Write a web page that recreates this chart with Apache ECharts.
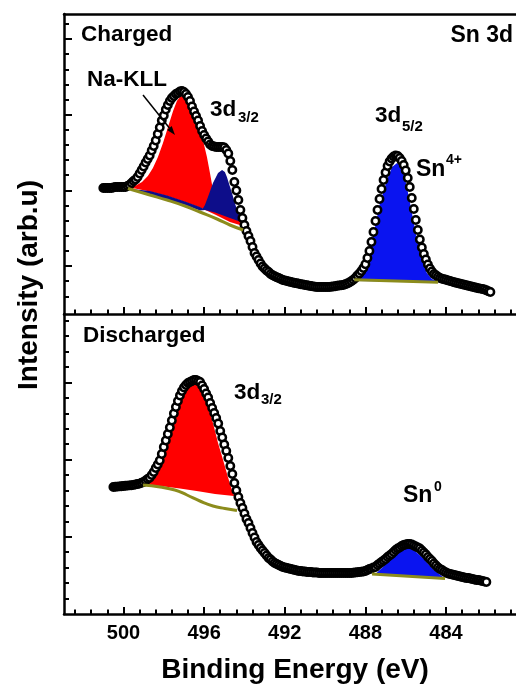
<!DOCTYPE html>
<html><head><meta charset="utf-8">
<script src="https://cdn.jsdelivr.net/npm/echarts@6/dist/echarts.min.js"></script>
<style>html,body{margin:0;padding:0;background:#fff}#chart{width:516px;height:685px}</style>
</head><body><div id="chart"></div>
<script>
// ---------------- DATA ----------------
const energyGrid = [
501.0,500.9,500.8,500.7,500.6,500.5,500.4,500.3,500.2,500.1,
500.0,499.9,499.8,499.7,499.6,499.5,499.4,499.3,499.2,499.1,
499.0,498.9,498.8,498.7,498.6,498.5,498.4,498.3,498.2,498.1,
498.0,497.9,497.8,497.7,497.6,497.5,497.4,497.3,497.2,497.1,
497.0,496.9,496.8,496.7,496.6,496.5,496.4,496.3,496.2,496.1,
496.0,495.9,495.8,495.7,495.6,495.5,495.4,495.3,495.2,495.1,
495.0,494.9,494.8,494.7,494.6,494.5,494.4,494.3,494.2,494.1,
494.0,493.9,493.8,493.7,493.6,493.5,493.4,493.3,493.2,493.1,
493.0,492.9,492.8,492.7,492.6,492.5,492.4,492.3,492.2,492.1,
492.0,491.9,491.8,491.7,491.6,491.5,491.4,491.3,491.2,491.1,
491.0,490.9,490.8,490.7,490.6,490.5,490.4,490.3,490.2,490.1,
490.0,489.9,489.8,489.7,489.6,489.5,489.4,489.3,489.2,489.1,
489.0,488.9,488.8,488.7,488.6,488.5,488.4,488.3,488.2,488.1,
488.0,487.9,487.8,487.7,487.6,487.5,487.4,487.3,487.2,487.1,
487.0,486.9,486.8,486.7,486.6,486.5,486.4,486.3,486.2,486.1,
486.0,485.9,485.8,485.7,485.6,485.5,485.4,485.3,485.2,485.1,
485.0,484.9,484.8,484.7,484.6,484.5,484.4,484.3,484.2,484.1,
484.0,483.9,483.8,483.7,483.6,483.5,483.4,483.3,483.2,483.1,
483.0,482.9,482.8,482.7,482.6,482.5,482.4,482.3,482.2,482.1,
482.0,481.9,481.8
];
// Charged sample (arb. units)
const chargedIntensity = [
12.6,12.6,12.6,12.6,12.6,12.65,12.7,12.7,12.7,12.7,
12.7,12.7,12.8,12.9,13.1,13.3,13.45,13.7,14.05,14.4,
14.75,15.15,15.5,15.85,16.35,16.8,17.35,18.0,18.65,19.35,
19.85,20.45,20.9,21.3,21.6,21.8,22.0,22.1,22.25,22.3,
22.2,22.0,21.7,21.3,20.75,20.25,19.8,19.35,18.8,18.3,
17.9,17.55,17.25,16.95,16.8,16.75,16.7,16.7,16.7,16.7,
16.65,16.4,16.05,15.3,14.4,13.2,12.35,11.4,10.4,9.6,
8.9,8.3,7.8,7.3,6.7,6.1,5.75,5.4,5.05,4.75,
4.55,4.35,4.2,4.0,3.87,3.78,3.68,3.6,3.5,3.4,
3.36,3.3,3.25,3.2,3.15,3.1,3.07,3.03,2.98,2.95,
2.9,2.87,2.83,2.8,2.76,2.73,2.7,2.7,2.7,2.7,
2.7,2.7,2.7,2.72,2.75,2.78,2.82,2.85,2.88,2.9,
2.98,3.05,3.15,3.28,3.42,3.6,3.84,4.04,4.3,4.6,
4.98,5.6,6.3,7.2,8.2,9.3,10.4,11.5,12.5,13.4,
14.15,14.8,15.25,15.55,15.75,15.85,15.8,15.6,15.3,14.9,
14.35,13.6,12.7,11.6,10.5,9.4,8.4,7.45,6.65,6.0,
5.45,4.95,4.55,4.25,4.0,3.87,3.73,3.6,3.53,3.47,
3.42,3.36,3.3,3.24,3.18,3.12,3.07,3.02,2.97,2.92,
2.87,2.82,2.77,2.72,2.67,2.62,2.58,2.54,2.5,2.45,
2.37,2.28,2.2
];
// Discharged sample (arb. units)
const dischargedIntensity = [
null,null,null,null,null,12.7,12.72,12.74,12.76,12.78,
12.8,12.82,12.84,12.86,12.88,12.91,12.96,13.0,13.04,13.12,
13.2,13.35,13.5,13.63,13.9,14.2,14.6,14.95,15.35,16.0,
16.7,17.35,18.0,18.65,19.35,20.05,20.7,21.3,21.85,22.3,
22.65,22.9,23.1,23.2,23.3,23.4,23.4,23.3,23.2,22.85,
22.5,22.05,21.65,21.1,20.6,20.1,19.6,19.05,18.3,17.65,
16.95,16.3,15.6,14.8,14.0,13.1,12.35,11.7,11.1,10.6,
10.05,9.5,9.1,8.6,8.1,7.65,7.2,6.9,6.6,6.35,
6.1,5.85,5.6,5.45,5.25,5.1,5.0,4.9,4.8,4.7,
4.65,4.6,4.55,4.5,4.45,4.4,4.35,4.3,4.3,4.25,
4.25,4.2,4.2,4.2,4.15,4.15,4.15,4.1,4.1,4.1,
4.1,4.1,4.1,4.1,4.1,4.1,4.1,4.1,4.1,4.1,
4.1,4.1,4.1,4.1,4.12,4.15,4.17,4.2,4.22,4.25,
4.3,4.4,4.5,4.55,4.65,4.7,4.9,5.05,5.2,5.35,
5.5,5.7,5.85,6.0,6.2,6.4,6.55,6.65,6.8,6.9,
6.95,7.0,7.0,6.95,6.85,6.75,6.65,6.55,6.35,6.15,
5.95,5.7,5.5,5.3,5.05,4.85,4.65,4.5,4.4,4.25,
4.15,4.05,4.0,3.95,3.9,3.85,3.8,3.75,3.7,3.65,
3.6,3.6,3.55,3.5,3.45,3.4,3.4,3.35,3.3,3.25,
3.2,null,null
];
const xTickLabels = [500, 496, 492, 488, 484];

// fitted components (outline points: [energy, intensity])
const chargedNaKLL = [
[499.78,12.55],[499.43,12.8],[499.08,13.2],[498.79,13.8],[498.54,14.6],[498.29,15.7],[498.04,17.1],
[497.79,18.7],[497.54,20.3],[497.35,21.3],[497.20,21.7],[497.10,21.8],[496.95,21.7],[496.80,21.3],
[496.60,20.4],[496.35,19.3],[496.21,18.4],[496.06,17.4],[495.86,15.7],[495.71,14.1],[495.56,12.4],
[495.36,11.1],[495.11,10.5],[494.87,10.1],[494.47,9.7],[494.07,9.2],
[494.07,8.8],[494.72,9.2],[495.46,9.95],[496.21,10.65],[496.95,11.2],[497.84,11.8],[498.69,12.25],[499.43,12.55]
];
const charged3d32 = [
[499.78,12.55],[498.69,12.3],[497.84,11.85],[496.95,11.25],[496.21,10.7],[496.06,10.55],[495.96,10.9],
[495.81,11.7],[495.56,13.1],[495.31,14.1],[495.11,14.4],[494.97,14.2],[494.87,13.7],[494.62,12.1],
[494.37,10.4],[494.17,9.5],
[494.17,9.2],[494.72,9.6],[495.46,10.15],[495.96,10.4],[496.21,10.35],[496.95,10.9],[497.84,11.45],[498.69,11.95]
];
const charged3d52 = [
[488.42,3.35],[488.27,3.6],[488.02,4.7],[487.77,6.7],[487.52,8.7],[487.28,11.1],[487.08,12.4],
[486.93,13.4],[486.68,14.7],[486.43,15.1],[486.19,14.7],[485.94,12.7],[485.69,10.1],[485.44,7.4],
[485.19,5.4],[484.95,4.1],[484.70,3.5],[484.45,3.3],[484.45,3.2],[488.42,3.3]
];
const chargedBackground = [
[499.78,12.55],[498.69,11.9],[497.84,11.4],[496.95,10.8],[496.21,10.2],[495.36,9.5],[494.72,8.9],[494.07,8.4]
];
const chargedBackground52 = [[488.55,3.42],[484.40,3.18]];

const dischargedPeak32 = [
[499.03,12.95],[498.69,13.2],[498.54,13.6],[498.34,14.7],[498.04,16.7],[497.69,18.7],[497.35,20.7],
[497.05,22.2],[496.70,22.9],[496.45,23.1],[496.21,22.7],[495.86,21.1],[495.56,19.1],[495.31,17.1],
[495.06,15.4],[494.82,13.7],[494.62,12.4],[494.52,11.9],
[494.52,11.8],[495.46,12.0],[496.21,12.25],[497.20,12.55],[498.19,12.8],[499.03,12.9]
];
const dischargedSn0 = [
[487.48,4.05],[487.13,4.7],[486.78,5.5],[486.38,6.2],[486.14,6.5],[485.94,6.6],[485.74,6.5],
[485.54,6.3],[485.15,5.6],[484.65,4.5],[484.15,3.7],[484.15,3.6],[487.48,4.0]
];
const dischargedBackground = [
[499.03,12.9],[498.19,12.7],[497.45,12.4],[496.85,11.9],[496.21,11.3],[495.56,10.8],[494.97,10.55],[494.37,10.35]
];
const dischargedBackgroundSn0 = [[487.67,4.0],[484.05,3.55]];

// ---------------- CHART ----------------
const FONT = '"Liberation Sans", Arial, Helvetica, sans-serif';
const chart = echarts.init(document.getElementById('chart'), null, {renderer: 'canvas', width: 516, height: 685});

const X_MIN = 480.53, X_MAX = 502.95;
function stepTicks(start, step, lo, hi, every, keepMajor) {
  const out = [];
  for (let k = -60; k <= 60; k++) {
    const v = +(start + k * step).toFixed(3);
    if (v < lo || v > hi) continue;
    const isMajor = ((k % every) + every) % every === 0;
    if (isMajor === keepMajor) out.push(v);
  }
  return out;
}
const xMajorTicks = stepTicks(480, 0.8, 481, X_MAX, 5, true);
const xMinorTicks = stepTicks(480, 0.8, 480.6, X_MAX, 5, false);
const topMajor = stepTicks(4.8, 1.5134, 1, 29.9, 5, true);
const topMinor = stepTicks(4.8, 1.5134, 1, 29.9, 5, false);
const botMajor = stepTicks(0, 1.544, 0.5, 29.9, 5, true);
const botMinor = stepTicks(0, 1.544, 0.5, 29.9, 5, false);

function xAxisCfg(gridIndex, ticks, len, showLine, labels, position) {
  return {
    type: 'value', gridIndex, min: X_MIN, max: X_MAX, inverse: true, position: position || 'bottom',
    axisLine: {show: showLine, onZero: false, lineStyle: {color: '#000', width: 2.5}},
    axisTick: ticks ? {show: true, inside: true, length: len, customValues: ticks, lineStyle: {color: '#000', width: 2}} : {show: false},
    axisLabel: labels ? {show: true, customValues: labels, margin: 9, color: '#000', fontSize: 20,
      fontWeight: 'bold', fontFamily: FONT} : {show: false},
    splitLine: {show: false}
  };
}
function yAxisCfg(gridIndex, ticks, len, showLine) {
  return {
    type: 'value', gridIndex, min: 0, max: 30, position: 'left',
    axisLine: {show: showLine, onZero: false, lineStyle: {color: '#000', width: 2.5}},
    axisTick: {show: true, inside: true, length: len, customValues: ticks, lineStyle: {color: '#000', width: 2}},
    axisLabel: {show: false}, splitLine: {show: false}
  };
}
function polygonSeries(points, color, xi, yi) {
  return {
    type: 'custom', xAxisIndex: xi, yAxisIndex: yi, data: points, silent: true, clip: true,
    encode: {x: 0, y: 1},
    renderItem(params, api) {
      if (params.dataIndex !== 0) return null;
      return {type: 'polygon', shape: {points: points.map(p => api.coord(p))}, style: {fill: color}};
    }
  };
}
function lineSeries(points, xi, yi) {
  return {type: 'line', xAxisIndex: xi, yAxisIndex: yi, data: points, smooth: true, showSymbol: false,
    silent: true, lineStyle: {color: '#8c8c1c', width: 3}};
}
function scatterSeries(values, xi, yi) {
  const d = [];
  energyGrid.forEach((e, i) => { if (values[i] != null) d.push([e, values[i]]); });
  return {type: 'scatter', xAxisIndex: xi, yAxisIndex: yi, data: d, symbol: 'circle', symbolSize: 7.4,
    silent: true, clip: false, itemStyle: {color: '#fff', borderColor: '#000', borderWidth: 2.5, opacity: 1}};
}
function txt(text, x, y, size, align) {
  return {type: 'text', x, y, silent: true, z: 100,
    style: {text, fill: '#000', font: 'bold ' + size + 'px ' + FONT, align: align || 'left', verticalAlign: 'middle'}};
}

const RED = '#ff0000', NAVY = '#0d0d8a', BLUE = '#0a14f0';
const gridBase = {left: 64, width: 452, height: 300, show: false, outerBoundsMode: 'none'};

chart.setOption({
  animation: false,
  backgroundColor: '#fff',
  grid: [
    Object.assign({top: 14}, gridBase),
    Object.assign({top: 314}, gridBase)
  ],
  xAxis: [
    xAxisCfg(0, xMajorTicks, 7, true, null),
    xAxisCfg(0, xMinorTicks, 4.5, false, null),
    xAxisCfg(0, null, 0, true, null, 'top'),
    xAxisCfg(1, xMajorTicks, 7, true, xTickLabels),
    xAxisCfg(1, xMinorTicks, 4.5, false, null)
  ],
  yAxis: [
    yAxisCfg(0, topMajor, 8, true),
    yAxisCfg(0, topMinor, 5, false),
    yAxisCfg(1, botMajor, 8, true),
    yAxisCfg(1, botMinor, 5, false)
  ],
  series: [
    polygonSeries(chargedNaKLL, RED, 0, 0),
    polygonSeries(charged3d32, NAVY, 0, 0),
    polygonSeries(charged3d52, BLUE, 0, 0),
    lineSeries(chargedBackground, 0, 0),
    lineSeries(chargedBackground52, 0, 0),
    scatterSeries(chargedIntensity, 0, 0),
    polygonSeries(dischargedPeak32, RED, 3, 2),
    polygonSeries(dischargedSn0, BLUE, 3, 2),
    lineSeries(dischargedBackground, 3, 2),
    lineSeries(dischargedBackgroundSn0, 3, 2),
    scatterSeries(dischargedIntensity, 3, 2)
  ],
  graphic: [
    txt('Charged', 81, 34.5, 22.5),
    txt('Sn 3d', 513, 36, 23, 'right'),
    txt('Na-KLL', 87, 80, 22.5),
    {type: 'line', silent: true, z: 100, shape: {x1: 143, y1: 95, x2: 169.4, y2: 128}, style: {stroke: '#000', lineWidth: 1.5}},
    {type: 'polygon', silent: true, z: 100, shape: {points: [[175, 135], [167.1, 129.9], [171.7, 126.1]]}, style: {fill: '#000'}},
    txt('3d', 210, 109.5, 22.5), txt('3/2', 238, 118, 15),
    txt('3d', 375, 115.5, 22.5), txt('5/2', 402, 127, 15),
    txt('Sn', 416, 170, 23), txt('4+', 446, 160, 14),
    txt('Discharged', 83, 335.5, 22.5),
    txt('3d', 234, 392.5, 22.5), txt('3/2', 261, 400, 15),
    txt('Sn', 403, 495.5, 23), txt('0', 434, 487.5, 14),
    txt('Binding Energy (eV)', 295, 670, 28, 'center'),
    Object.assign(txt('Intensity (arb.u)', 29, 285, 28, 'center'), {rotation: Math.PI / 2})
  ]
});
</script>
</body></html>
